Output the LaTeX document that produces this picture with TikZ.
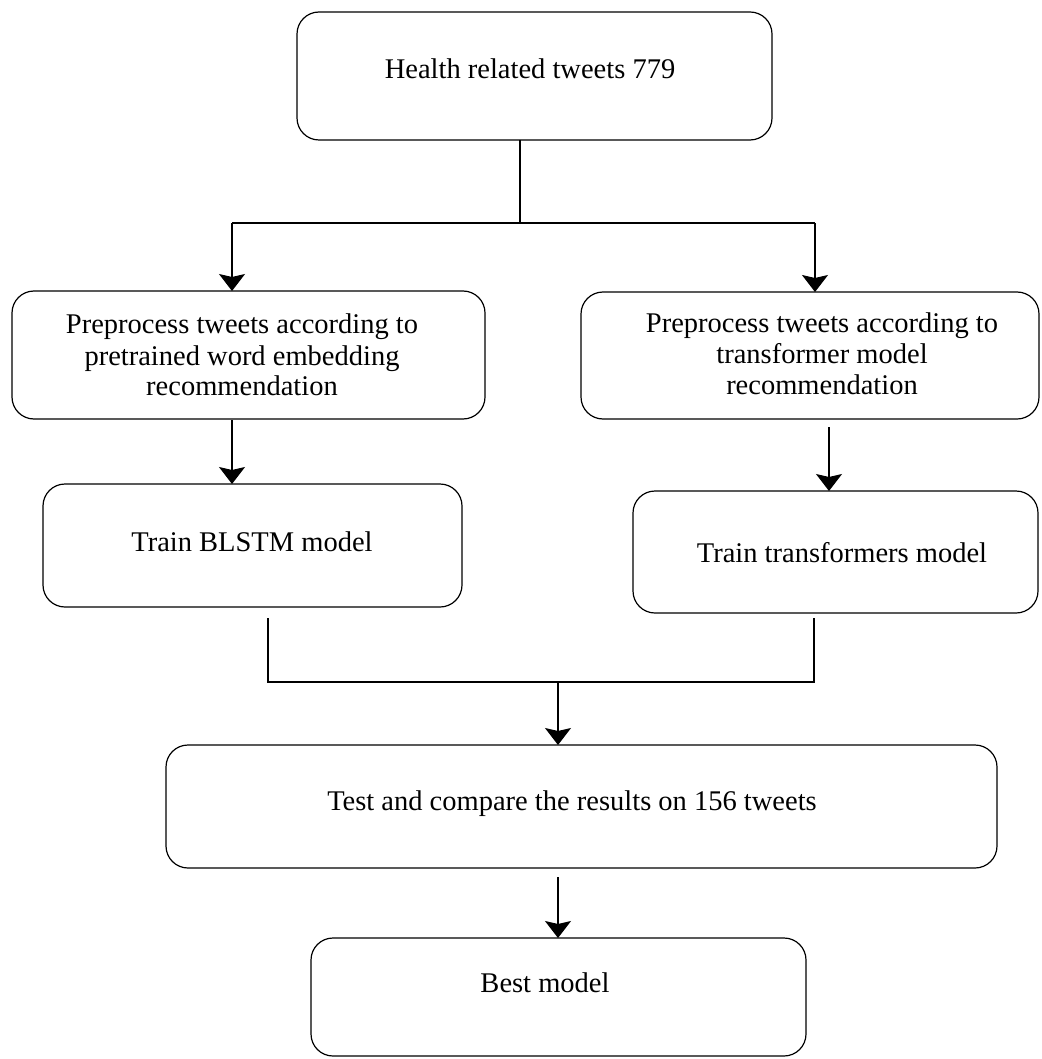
\documentclass[tikz,border=0pt]{standalone}
\usepackage{fontspec}
\setmainfont{Liberation Serif}
\usetikzlibrary{arrows.meta}
\begin{document}
\begin{tikzpicture}[x=1pt,y=-1pt,
  box/.style={draw=black, line width=1.2pt, rounded corners=22pt, inner sep=0pt, outer sep=0pt},
  lbl/.style={anchor=base, inner sep=0pt, font=\fontsize{28.5}{31}\selectfont},
  conn/.style={draw=black, line width=1.2pt},
  arr/.style={conn, -{Stealth[length=17pt,width=26pt,inset=3pt]}}]
\useasboundingbox (0,0) rectangle (1041,1059);
% boxes
\node[box, minimum width=475pt, minimum height=128pt] (top) at (534.5,76) {};
\node[box, minimum width=473pt, minimum height=128pt] (pl) at (248.5,355) {};
\node[box, minimum width=458pt, minimum height=127pt] (pr) at (810,355.5) {};
\node[box, minimum width=419pt, minimum height=123pt] (tl) at (252.5,545.5) {};
\node[box, minimum width=405pt, minimum height=122pt] (tr) at (835.5,552) {};
\node[box, minimum width=831pt, minimum height=123pt] (test) at (581.5,806.5) {};
\node[box, minimum width=495pt, minimum height=118pt] (best) at (558.5,997) {};
% labels
\node[lbl] (ttop) at (530,79) {Health related tweets 779};
\node[lbl] (tpl1) at (242,333) {Preprocess tweets according to};
\node[lbl] (tpl2) at (242,365) {pretrained word embedding};
\node[lbl] (tpl3) at (242,395) {recommendation};
\node[lbl] (tpr1) at (822,332) {Preprocess tweets according to};
\node[lbl] (tpr2) at (822,363) {transformer model};
\node[lbl] (tpr3) at (822,394) {recommendation};
\node[lbl] (ttl) at (252,551) {Train BLSTM model};
\node[lbl] (ttr) at (842,562) {Train transformers model};
\node[lbl] (ttest) at (572,810) {Test and compare the results on 156 tweets};
\node[lbl] (tbest) at (545,992) {Best model};
% junction coordinates
\coordinate (j1) at (520,223);
\coordinate (aL) at (232,223);
\coordinate (aR) at (815,223);
\coordinate (xR2) at (829,0);
\coordinate (bL) at (268,682);
\coordinate (bR) at (814,682);
\coordinate (bM) at (558,682);
% connectors
\draw[conn] (j1 |- top.south) -- (j1);
\draw[conn] (aL) -- (aR);
\draw[arr] (aL) -- (aL |- pl.north);
\draw[arr] (aR) -- (aR |- pr.north);
\draw[arr] ([yshift=-1pt]aL |- pl.south) -- (aL |- tl.north);
\draw[arr] ([yshift=-8pt]xR2 |- pr.south) -- (xR2 |- tr.north);
\draw[conn] ([yshift=-11pt]bL |- tl.south) -- (bL) -- (bR) -- ([yshift=-5pt]bR |- tr.south);
\draw[arr] (bM) -- (bM |- test.north);
\draw[arr] ([yshift=-9pt]bM |- test.south) -- (bM |- best.north);
\end{tikzpicture}
\end{document}
